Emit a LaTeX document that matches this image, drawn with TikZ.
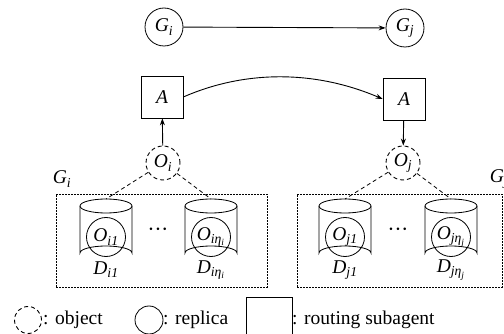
\documentclass[tikz,border=0pt]{standalone}
\usepackage{fontspec}
\setmainfont{Liberation Serif}
\usetikzlibrary{arrows.meta}
\newcommand{\vv}[2]{\textit{#1}\textsubscript{\textit{#2}}}
\tikzset{
  lbl/.style={font=\fontsize{19.5}{21}\selectfont, inner sep=0pt},
  gnode/.style={draw, circle, minimum size=38pt, line width=0.8pt, lbl},
  anode/.style={draw, rectangle, minimum size=42pt, line width=0.7pt, lbl},
  onode/.style={draw, circle, dashed, dash pattern=on 4pt off 3pt, minimum size=34pt, line width=0.9pt, lbl},
  rnode/.style={draw, circle, minimum size=39pt, line width=0.8pt, lbl},
  grp/.style={draw, dash pattern=on 2pt off 1pt, line width=0.7pt},
  arr/.style={-{Stealth[length=7pt,width=5pt]}, line width=0.9pt},
  link/.style={dashed, dash pattern=on 4pt off 3pt, line width=0.8pt},
  cyl/.style={line width=0.8pt},
  dotsl/.style={font=\fontsize{30}{30}\selectfont, inner sep=0pt}
}
\newcommand{\drawcyl}[2]{% x, name
  \draw[cyl] (#1,206) ellipse [x radius=26, y radius=7];
  \draw[cyl] (#1-26,206) -- (#1-26,253) arc[start angle=180, end angle=360, x radius=26, y radius=7] -- (#1+26,206);
  \coordinate (#2) at (#1,199);
}
\begin{document}
\begin{tikzpicture}[x=1pt,y=-1pt]
\useasboundingbox (0,0) rectangle (504,334);
\clip (0,0) rectangle (504,334);
% top level
\node[gnode] (Gi) at (164,27) {\vv{G}{i}};
\node[gnode] (Gj) at (405,28) {\vv{G}{j}};
\draw[arr] (Gi) -- (Gj);
% routing subagents
\node[anode] (A1) at (162,97) {\textit{A}};
\node[anode] (A2) at (404,99) {\textit{A}};
\draw[arr] (A1.east) .. controls (245,70) and (315,70) .. (A2.west);
% objects
\node[onode] (Oi) at (163,163) {\vv{O}{i}};
\node[onode] (Oj) at (403,163) {\vv{O}{j}};
\draw[arr] (Oi) -- (A1);
\draw[arr] (A2) -- (Oj);
% groups
\node[grp, minimum width=211pt, minimum height=93pt, inner sep=0pt] (Bi) at (161.5,240.5) {};
\node[grp, minimum width=205pt, minimum height=93pt, inner sep=0pt] (Bj) at (399.5,240.5) {};
\node[lbl] (Li) at (62,179) {\vv{G}{i}};
\node[lbl] (Lj) at (499,179) {\vv{G}{j}};
% cylinders
\drawcyl{106}{c1}
\drawcyl{211}{c2}
\drawcyl{345}{c3}
\drawcyl{451}{c4}
\node[rnode] (R1) at (106,237) {\vv{O}{i1}};
\node[rnode] (R2) at (211,237) {\textit{O}\textsubscript{\textit{iη}\textsubscript{\textit{i}}}};
\node[rnode] (R3) at (345,237) {\vv{O}{j1}};
\node[rnode] (R4) at (451,237) {\textit{O}\textsubscript{\textit{jη}\textsubscript{\textit{j}}}};
\node[lbl] (D1) at (106,270) {\vv{D}{i1}};
\node[lbl] (D2) at (211,270) {\textit{D}\textsubscript{\textit{iη}\textsubscript{\textit{i}}}};
\node[lbl] (D3) at (345,270) {\vv{D}{j1}};
\node[lbl] (D4) at (451,270) {\textit{D}\textsubscript{\textit{jη}\textsubscript{\textit{j}}}};
\node[dotsl] (dots1) at (158,230) {$\cdot\mkern-4mu\cdot\mkern-4mu\cdot$};
\node[dotsl] (dots2) at (398,230) {$\cdot\mkern-4mu\cdot\mkern-4mu\cdot$};
\draw[link] (Oi) -- (c1);
\draw[link] (Oi) -- (c2);
\draw[link] (Oj) -- (c3);
\draw[link] (Oj) -- (c4);
% legend
\node[onode, minimum size=27pt] (LO) at (28,320) {};
\node[lbl, anchor=west] (LOt) at (43,320) {: object};
\node[rnode, minimum size=28pt] (LR) at (149,320) {};
\node[lbl, anchor=west] (LRt) at (163,320) {: replica};
\node[anode, minimum width=46pt, minimum height=44pt] (LA) at (269,319) {};
\node[lbl, anchor=west] (LAt) at (292,320) {: routing subagent};
\end{tikzpicture}
\end{document}
